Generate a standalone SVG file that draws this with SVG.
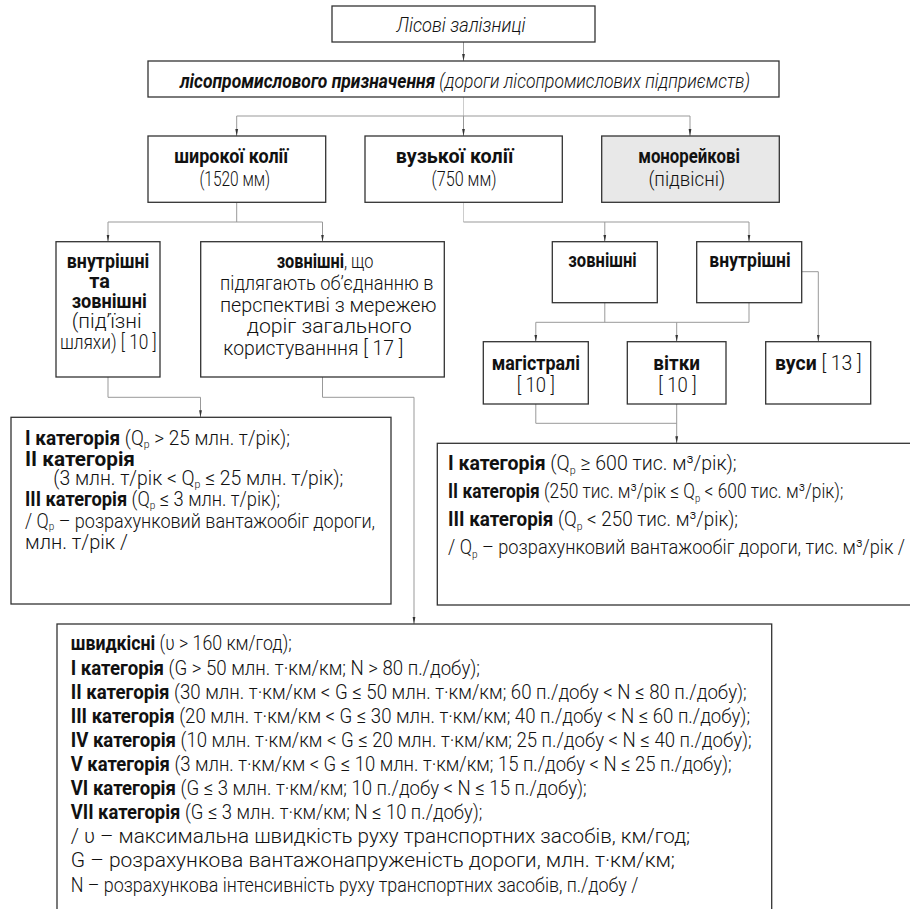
<svg xmlns="http://www.w3.org/2000/svg" width="910" height="909" viewBox="0 0 910 909">
<defs>
<marker id="ar" markerUnits="userSpaceOnUse" markerWidth="4" markerHeight="7" refX="2" refY="7" orient="0" viewBox="0 0 4 7">
<path d="M0.6,0 L3.4,0 L2,7 Z" fill="#333"/>
</marker>
<style>
text{font-family:Roboto,"DejaVu Sans","Liberation Sans",sans-serif;font-size:20px;font-weight:300;fill:#111}
.c{text-anchor:middle}
.i{font-style:italic}
.b{font-weight:700}
.sub{font-size:11px}
.box{fill:#fff;stroke:#333;stroke-width:1.3}
.grey{fill:#e8e8e8}
.ln{fill:none;stroke:#999;stroke-width:1}
.lt{fill:none;stroke:#ccc;stroke-width:1}
.arr{fill:none;stroke:#999;stroke-width:1;marker-end:url(#ar)}
</style>
</defs>
<rect width="910" height="909" fill="#fff"/>

<g id="connectors">
<path class="arr" d="M463.5,42 V61"/>
<path class="lt" d="M463.5,97 V116"/>
<path class="ln" d="M236.7,116 H690"/>
<path class="arr" d="M236.7,116 V136"/>
<path class="arr" d="M463.5,116 V136"/>
<path class="arr" d="M690,116 V136"/>
<path class="ln" d="M236.7,202 V222 M108,222 H322.5"/>
<path class="arr" d="M108,222 V241.7"/>
<path class="arr" d="M322.5,222 V241.7"/>
<path class="lt" d="M463.5,202 V222"/>
<path class="ln" d="M463.5,222 H749"/>
<path class="arr" d="M604.8,222 V241.7"/>
<path class="arr" d="M749,222 V241.7"/>
<path class="ln" d="M604.8,302.7 V322.3 M535.8,322.3 H749 M749,302.7 V322.3"/>
<path class="arr" d="M535.8,322.3 V341.7"/>
<path class="arr" d="M676.7,322.3 V341.7"/>
<path class="arr" d="M801.7,271.7 H818.3 V341.7"/>
<path class="ln" d="M535.8,404 V423.3 H676.7"/>
<path class="arr" d="M676.7,404 V443.3"/>
<path class="arr" d="M108,377 V397.3 H200.5 V417.3"/>
<path class="arr" d="M322.5,377 V397.3 H414 V624"/>
</g>

<g id="n-root">
<rect class="box" x="332" y="6" width="263" height="36"/>
<text class="c i" transform="translate(461,31.5) scale(0.78,1)" textLength="165.4" lengthAdjust="spacingAndGlyphs">Лісові залізниці</text>
</g>

<g id="n-purpose">
<rect class="box" x="148" y="61" width="631" height="36"/>
<text class="c i" transform="translate(465,88) scale(0.78,1)" textLength="730.8" lengthAdjust="spacingAndGlyphs"><tspan class="b">лісопромислового призначення</tspan> (дороги лісопромислових підприємств)</text>
</g>

<g id="n-wide">
<rect class="box" x="148" y="136" width="177.7" height="66.3"/>
<text class="c b" transform="translate(231.2,163) scale(0.78,1)" textLength="146.2" lengthAdjust="spacingAndGlyphs">широкої колії</text>
<text class="c" transform="translate(234.7,186) scale(0.78,1)" textLength="90.6" lengthAdjust="spacingAndGlyphs">(1520 мм)</text>
</g>

<g id="n-narrow">
<rect class="box" x="365" y="136" width="197.3" height="66.3"/>
<text class="c b" transform="translate(454.5,163) scale(0.78,1)" textLength="150.8" lengthAdjust="spacingAndGlyphs">вузької колії</text>
<text class="c" transform="translate(464,186) scale(0.78,1)" textLength="83.3" lengthAdjust="spacingAndGlyphs">(750 мм)</text>
</g>

<g id="n-mono">
<rect class="box grey" x="601.7" y="136" width="177.6" height="66.3"/>
<text class="c b" transform="translate(689,163) scale(0.78,1)" textLength="130.4" lengthAdjust="spacingAndGlyphs">монорейкові</text>
<text class="c" transform="translate(686.7,186) scale(0.78,1)" textLength="98.3" lengthAdjust="spacingAndGlyphs">(підвісні)</text>
</g>

<g id="n-inner-outer">
<rect class="box" x="56" y="241.7" width="104" height="135.3"/>
<text class="c b" transform="translate(108,268) scale(0.78,1)" textLength="105.9" lengthAdjust="spacingAndGlyphs">внутрішні</text>
<text class="c b" transform="translate(99.7,288.3) scale(0.78,1)" textLength="26.5" lengthAdjust="spacingAndGlyphs">та</text>
<text class="c b" transform="translate(109.2,308.3) scale(0.78,1)" textLength="96.2" lengthAdjust="spacingAndGlyphs">зовнішні</text>
<text class="c" transform="translate(106.7,327.5) scale(0.78,1)" textLength="89.7" lengthAdjust="spacingAndGlyphs">(під’їзні</text>
<text class="c" transform="translate(108.3,349) scale(0.78,1)" textLength="124" lengthAdjust="spacingAndGlyphs">шляхи) [ 10 ]</text>
</g>

<g id="n-outer-public">
<rect class="box" x="200.7" y="241.7" width="243.6" height="135.3"/>
<text class="c" transform="translate(325,268) scale(0.78,1)" textLength="124" lengthAdjust="spacingAndGlyphs"><tspan class="b">зовнішні</tspan>, що</text>
<text class="c" transform="translate(326.7,290) scale(0.78,1)" textLength="273.5" lengthAdjust="spacingAndGlyphs">підлягають об’єднанню в</text>
<text class="c" transform="translate(328.3,311.7) scale(0.78,1)" textLength="277.8" lengthAdjust="spacingAndGlyphs">перспективі з мережею</text>
<text class="c" transform="translate(329.2,333) scale(0.78,1)" textLength="211.5" lengthAdjust="spacingAndGlyphs">доріг загального</text>
<text class="c" transform="translate(313.3,355) scale(0.78,1)" textLength="230.8" lengthAdjust="spacingAndGlyphs">користуванння [ 17 ]</text>
</g>

<g id="n-outer">
<rect class="box" x="552.3" y="241.7" width="105" height="61"/>
<text class="c b" transform="translate(602.5,266.5) scale(0.78,1)" textLength="87.6" lengthAdjust="spacingAndGlyphs">зовнішні</text>
</g>

<g id="n-inner">
<rect class="box" x="696.7" y="241.7" width="105" height="61"/>
<text class="c b" transform="translate(750,266.5) scale(0.78,1)" textLength="104.2" lengthAdjust="spacingAndGlyphs">внутрішні</text>
</g>

<g id="n-main">
<rect class="box" x="483.3" y="341.7" width="105" height="62.3"/>
<text class="c b" transform="translate(535.8,370) scale(0.78,1)" textLength="113.2" lengthAdjust="spacingAndGlyphs">магістралі</text>
<text class="c" transform="translate(535.8,392) scale(0.78,1)" textLength="49.1" lengthAdjust="spacingAndGlyphs">[ 10 ]</text>
</g>

<g id="n-branch">
<rect class="box" x="627.3" y="341.7" width="98.7" height="62.3"/>
<text class="c b" transform="translate(676.7,370) scale(0.78,1)" textLength="59.9" lengthAdjust="spacingAndGlyphs">вітки</text>
<text class="c" transform="translate(677.5,392) scale(0.78,1)" textLength="49.1" lengthAdjust="spacingAndGlyphs">[ 10 ]</text>
</g>

<g id="n-sidings">
<rect class="box" x="765.7" y="341.7" width="105" height="62.3"/>
<text transform="translate(775,370) scale(0.78,1)" textLength="111.2" lengthAdjust="spacingAndGlyphs"><tspan class="b">вуси</tspan> [ 13 ]</text>
</g>

<g id="n-cat-left">
<rect class="box" x="11" y="417.3" width="380" height="186.7"/>
<text transform="translate(25,445) scale(0.7,1)" textLength="378.6" lengthAdjust="spacingAndGlyphs"><tspan class="b">I категорія</tspan> (Q<tspan class="sub" dy="2.5">р</tspan><tspan dy="-2.5"> &gt; 25 млн. т/рік);</tspan></text>
<text class="b" transform="translate(25,466) scale(0.78,1)" textLength="141" lengthAdjust="spacingAndGlyphs">II категорія</text>
<text transform="translate(53.3,485) scale(0.7,1)" textLength="414.3" lengthAdjust="spacingAndGlyphs">(3 млн. т/рік &lt; Q<tspan class="sub" dy="2.5">р</tspan><tspan dy="-2.5"> ≤ 25 млн. т/рік);</tspan></text>
<text transform="translate(25,506) scale(0.7,1)" textLength="364.3" lengthAdjust="spacingAndGlyphs"><tspan class="b">III категорія</tspan> (Q<tspan class="sub" dy="2.5">р</tspan><tspan dy="-2.5"> ≤ 3 млн. т/рік);</tspan></text>
<text transform="translate(25,527.5) scale(0.7,1)" textLength="500" lengthAdjust="spacingAndGlyphs">/ Q<tspan class="sub" dy="2.5">р</tspan><tspan dy="-2.5"> – розрахунковий вантажообіг дороги,</tspan></text>
<text transform="translate(25,548.5) scale(0.78,1)" textLength="132.1" lengthAdjust="spacingAndGlyphs">млн. т/рік /</text>
</g>

<g id="n-cat-right">
<rect class="box" x="437.3" y="443.3" width="480" height="161.7"/>
<text transform="translate(448,470) scale(0.7,1)" textLength="412.4" lengthAdjust="spacingAndGlyphs"><tspan class="b">I категорія</tspan> (Q<tspan class="sub" dy="3.5">р</tspan><tspan dy="-3.5"> ≥ 600 тис. м³/рік);</tspan></text>
<text transform="translate(448,498) scale(0.7,1)" textLength="564.7" lengthAdjust="spacingAndGlyphs"><tspan class="b">II категорія</tspan> (250 тис. м³/рік ≤ Q<tspan class="sub" dy="3.5">р</tspan><tspan dy="-3.5"> &lt; 600 тис. м³/рік);</tspan></text>
<text transform="translate(448,526) scale(0.7,1)" textLength="414.3" lengthAdjust="spacingAndGlyphs"><tspan class="b">III категорія</tspan> (Q<tspan class="sub" dy="3.5">р</tspan><tspan dy="-3.5"> &lt; 250 тис. м³/рік);</tspan></text>
<text transform="translate(448,554) scale(0.7,1)" textLength="652.9" lengthAdjust="spacingAndGlyphs">/ Q<tspan class="sub" dy="3.5">р</tspan><tspan dy="-3.5"> – розрахунковий вантажообіг дороги, тис. м³/рік /</tspan></text>
</g>

<g id="n-cat-bottom">
<rect class="box" x="57" y="624" width="714.7" height="300"/>
<text transform="translate(70.7,650) scale(0.78,1)" textLength="283.3" lengthAdjust="spacingAndGlyphs"><tspan class="b">швидкісні</tspan> (υ &gt; 160 км/год);</text>
<text transform="translate(70.7,675) scale(0.78,1)" textLength="524.7" lengthAdjust="spacingAndGlyphs"><tspan class="b">I категорія</tspan> (G &gt; 50 млн. т·км/км; N &gt; 80 п./добу);</text>
<text transform="translate(70.7,698.5) scale(0.78,1)" textLength="866.7" lengthAdjust="spacingAndGlyphs"><tspan class="b">II категорія</tspan> (30 млн. т·км/км &lt; G ≤ 50 млн. т·км/км; 60 п./добу &lt; N ≤ 80 п./добу);</text>
<text transform="translate(70.7,722.5) scale(0.78,1)" textLength="870.9" lengthAdjust="spacingAndGlyphs"><tspan class="b">III категорія</tspan> (20 млн. т·км/км &lt; G ≤ 30 млн. т·км/км; 40 п./добу &lt; N ≤ 60 п./добу);</text>
<text transform="translate(70.7,747) scale(0.78,1)" textLength="873.1" lengthAdjust="spacingAndGlyphs"><tspan class="b">IV категорія</tspan> (10 млн. т·км/км &lt; G ≤ 20 млн. т·км/км; 25 п./добу &lt; N ≤ 40 п./добу);</text>
<text transform="translate(70.7,771) scale(0.78,1)" textLength="847.4" lengthAdjust="spacingAndGlyphs"><tspan class="b">V категорія</tspan> (3 млн. т·км/км &lt; G ≤ 10 млн. т·км/км; 15 п./добу &lt; N ≤ 25 п./добу);</text>
<text transform="translate(70.7,795) scale(0.78,1)" textLength="661.5" lengthAdjust="spacingAndGlyphs"><tspan class="b">VI категорія</tspan> (G ≤ 3 млн. т·км/км; 10 п./добу &lt; N ≤ 15 п./добу);</text>
<text transform="translate(70.7,819) scale(0.78,1)" textLength="527.8" lengthAdjust="spacingAndGlyphs"><tspan class="b">VII категорія</tspan> (G ≤ 3 млн. т·км/км; N ≤ 10 п./добу);</text>
<text transform="translate(70.7,843) scale(0.78,1)" textLength="794" lengthAdjust="spacingAndGlyphs">/ υ – максимальна швидкість руху транспортних засобів, км/год;</text>
<text transform="translate(70.7,867) scale(0.78,1)" textLength="774.7" lengthAdjust="spacingAndGlyphs">G – розрахункова вантажонапруженість дороги, млн. т·км/км;</text>
<text transform="translate(70.7,891.5) scale(0.78,1)" textLength="727.7" lengthAdjust="spacingAndGlyphs">N – розрахункова інтенсивність руху транспортних засобів, п./добу /</text>
</g>
</svg>
